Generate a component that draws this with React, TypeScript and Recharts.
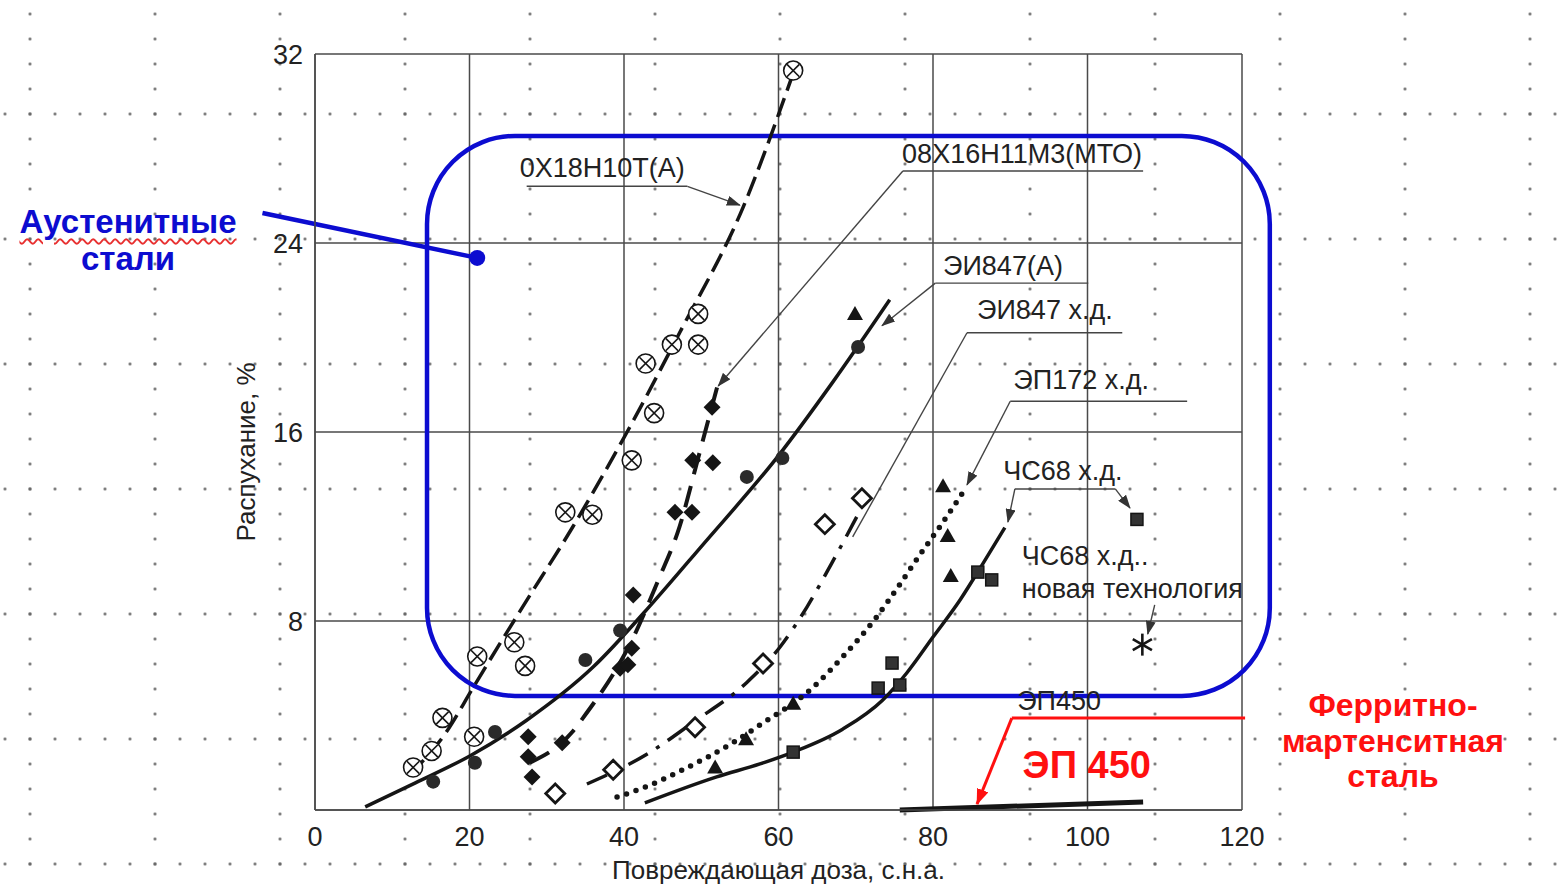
import React from 'react';
import {
  ComposedChart, Line, Scatter, XAxis, YAxis, CartesianGrid,
  ReferenceLine, ReferenceArea, ReferenceDot,
} from 'recharts';

type Pt = { x: number; y: number };
const pts = (a: number[][]): Pt[] => a.map(([x, y]) => ({ x, y }));

const xTicks = [0, 20, 40, 60, 80, 100, 120];
const yTicks = [8, 16, 24, 32];

// 0Х18Н10Т(А) – circles with a cross, dashed curve
const s0x18Points = pts([[12.7, 1.8], [15.1, 2.5], [16.5, 3.9], [20.6, 3.1], [21.0, 6.5], [25.8, 7.1], [27.2, 6.1], [32.4, 12.6], [35.9, 12.5], [41.0, 14.8], [43.9, 16.8], [42.8, 18.9], [46.2, 19.7], [49.6, 19.7], [49.6, 21.0], [61.9, 31.3]]);
const s0x18Curve = pts([[12.3, 1.5], [17.0, 3.3], [20.5, 5.2], [26.5, 8.4], [33.4, 12.0], [40.4, 16.0], [47.2, 20.2], [55.4, 25.5], [61.7, 31.0]]);

// 08Х16Н11М3(МТО) – filled diamonds, dashed curve
const s08x16Points = pts([[27.6, 3.1], [27.6, 2.25], [28.1, 1.4], [32.0, 2.85], [39.5, 6.0], [40.5, 6.15], [41.0, 6.85], [41.2, 9.1], [46.6, 12.6], [48.8, 12.6], [48.9, 14.8], [51.5, 14.7], [51.4, 17.05]]);
const s08x16Curve = pts([[27.8, 2.0], [33.3, 3.3], [34.7, 3.9], [41.2, 7.3], [44.4, 9.7], [47.2, 12.0], [49.6, 14.9], [52.3, 18.2]]);

// ЭИ847(А) – filled circles, solid curve
const ei847aPoints = pts([[15.3, 1.2], [20.7, 2.0], [23.3, 3.3], [35.0, 6.35], [39.5, 7.6], [55.9, 14.1], [60.5, 14.9], [70.3, 19.6]]);
const ei847aCurve = pts([[6.5, 0.13], [13, 1.15], [20.1, 2.3], [27.4, 3.8], [36, 6.05], [43.8, 8.8], [50, 11.15], [60, 15.0], [67, 18.1], [74.4, 21.6]]);

// ЭИ847 х.д. – open diamonds, dash-dot curve
const ei847hdPoints = pts([[31.1, 0.7], [38.6, 1.7], [49.2, 3.5], [58.0, 6.2], [66.0, 12.1], [70.8, 13.2]]);
const ei847hdCurve = pts([[35.2, 1.1], [43.4, 2.45], [48.9, 3.7], [55.9, 5.4], [60.2, 6.9], [63.7, 8.6], [66.9, 10.45], [70.6, 12.7]]);

// ЭП172 х.д. – filled triangles, dotted curve
const ep172Points = pts([[51.8, 1.8], [55.8, 3.0], [61.9, 4.5], [69.9, 21.0], [81.3, 13.7], [81.9, 11.6], [82.3, 9.9]]);
const ep172Curve = pts([[39.1, 0.55], [43, 1.0], [47.6, 1.7], [54.1, 2.85], [57.6, 3.6], [64.5, 5.2], [68.3, 6.48], [72.7, 8.17], [75.7, 9.55], [78.3, 10.8], [80.9, 12.0], [84.4, 13.7]]);

// ЧС68 х.д. – filled squares, solid curve
const cs68Points = pts([[61.9, 2.45], [72.9, 5.16], [75.7, 5.29], [74.7, 6.22], [85.8, 10.07], [87.6, 9.74], [106.4, 12.3]]);
const cs68Curve = pts([[42.7, 0.3], [52, 1.4], [57.6, 1.95], [61.9, 2.45], [68.3, 3.42], [73.5, 4.66], [76.6, 5.8], [80, 7.32], [83.5, 8.89], [86.5, 10.45], [89.3, 11.95]]);

// ЧС68 х.д. новая технология – asterisk
const cs68NewPoints = pts([[107.1, 7.0]]);

// ЭП450 – thick line near zero
const ep450Curve = pts([[75.7, 0.0], [107.2, 0.34]]);

// annotation texts (left / baseline, data units)
const notes = [
  { text: '0Х18Н10Т(А)', x: 26.5, y: 26.8 },
  { text: '08Х16Н11М3(МТО)', x: 76.0, y: 27.4 },
  { text: 'ЭИ847(А)', x: 81.3, y: 22.65 },
  { text: 'ЭИ847 х.д.', x: 85.7, y: 20.8 },
  { text: 'ЭП172 х.д.', x: 90.4, y: 17.8 },
  { text: 'ЧС68 х.д.', x: 89.1, y: 13.97 },
  { text: 'ЧС68 х.д..', x: 91.5, y: 10.37 },
  { text: 'новая технология', x: 91.5, y: 8.97 },
  { text: 'ЭП450', x: 90.9, y: 4.23 },
];

// leader lines [x1, y1, x2, y2, arrow]
const leaders: [number, number, number, number, boolean][] = [
  [27.4, 26.4, 48.2, 26.4, false],
  [48.2, 26.4, 55.0, 25.6, true],
  [76.1, 27.05, 107.2, 27.05, false],
  [76.1, 27.05, 52.2, 17.95, true],
  [80.3, 22.3, 100.1, 22.3, false],
  [80.3, 22.3, 73.4, 20.5, true],
  [84.4, 20.2, 104.5, 20.2, false],
  [84.4, 20.2, 69.6, 11.56, false],
  [90.0, 17.3, 112.9, 17.3, false],
  [90.0, 17.3, 84.4, 13.76, true],
  [90.6, 13.59, 103.6, 13.59, false],
  [90.6, 13.59, 89.7, 12.19, true],
  [103.6, 13.59, 105.5, 12.78, true],
  [108.7, 8.68, 107.8, 7.45, true],
];

const INK = '#151515';
const BLUE = '#0c0cd0';
const RED = '#ff1010';
const FONT = '"Liberation Sans", Arial, sans-serif';

const CrossCircle = (p: any) => {
  const { cx, cy } = p;
  const d = 6.2;
  return (
    <g stroke={INK} strokeWidth={1.6}>
      <circle cx={cx} cy={cy} r={9.5} fill="#fff" />
      <line x1={cx - d} y1={cy - d} x2={cx + d} y2={cy + d} />
      <line x1={cx - d} y1={cy + d} x2={cx + d} y2={cy - d} />
    </g>
  );
};
const FilledDiamond = (p: any) => {
  const { cx, cy } = p;
  const s = 8.5;
  return <polygon points={`${cx},${cy - s} ${cx + s},${cy} ${cx},${cy + s} ${cx - s},${cy}`} fill={INK} />;
};
const OpenDiamond = (p: any) => {
  const { cx, cy } = p;
  const s = 9.5;
  return <polygon points={`${cx},${cy - s} ${cx + s},${cy} ${cx},${cy + s} ${cx - s},${cy}`} fill="#fff" stroke={INK} strokeWidth={2.8} />;
};
const FilledCircle = (p: any) => <circle cx={p.cx} cy={p.cy} r={7} fill="#2a2a2a" />;
const Triangle = (p: any) => {
  const { cx, cy } = p;
  return <polygon points={`${cx},${cy - 8} ${cx + 8},${cy + 6} ${cx - 8},${cy + 6}`} fill={INK} />;
};
const Square = (p: any) => <rect x={p.cx - 6} y={p.cy - 6} width={12} height={12} fill="#333" stroke={INK} strokeWidth={1.5} />;
const Asterisk = (p: any) => {
  const { cx, cy } = p;
  const r = 11;
  return (
    <g stroke={INK} strokeWidth={2.6}>
      <line x1={cx} y1={cy - r} x2={cx} y2={cy + r} />
      <line x1={cx - r * 0.87} y1={cy - r / 2} x2={cx + r * 0.87} y2={cy + r / 2} />
      <line x1={cx - r * 0.87} y1={cy + r / 2} x2={cx + r * 0.87} y2={cy - r / 2} />
    </g>
  );
};

const YTitle = (props: any) => {
  const vb = props.viewBox;
  const x = vb.x + 16;
  const y = vb.y + vb.height / 2 + 20;
  return (
    <text x={x} y={y} transform={`rotate(-90, ${x}, ${y})`} textAnchor="middle" dominantBaseline="central" fontSize={26} fill="#222" fontFamily={FONT}>
      Распухание, %
    </text>
  );
};

export default function App() {
  const tickStyle = { fontSize: 27, fill: '#222', fontFamily: FONT };
  return (
    <div
      style={{
        position: 'absolute', left: 0, top: 0, width: 1563, height: 887, background: '#fff',
        backgroundImage:
          'radial-gradient(circle, #666 1.1px, transparent 1.6px), radial-gradient(circle, #666 1.1px, transparent 1.6px)',
        backgroundSize: '125px 25px, 25px 125px',
        backgroundPosition: '-32.5px 1.5px, -7.5px 51.5px',
        fontFamily: FONT,
      }}
    >
      <ComposedChart width={1563} height={887} margin={{ top: 54, right: 321, bottom: 8, left: 230 }} style={{ position: 'absolute', left: 0, top: 0 }}>
        <defs>
          <marker id="arrowDark" markerWidth={14} markerHeight={10} refX={13} refY={5} orient="auto" markerUnits="userSpaceOnUse">
            <path d="M0,0 L14,5 L0,10 z" fill="#333" />
          </marker>
          <marker id="arrowRed" markerWidth={16} markerHeight={12} refX={15} refY={6} orient="auto" markerUnits="userSpaceOnUse">
            <path d="M0,0 L16,6 L0,12 z" fill={RED} />
          </marker>
        </defs>
        <CartesianGrid stroke="#4a4a4a" strokeWidth={1.5} />
        <XAxis
          type="number" dataKey="x" domain={[0, 120]} ticks={xTicks} interval={0}
          height={69} tickLine={false} tickSize={0} tickMargin={17} tick={tickStyle}
          axisLine={{ stroke: '#4a4a4a', strokeWidth: 1.5 }}
          label={{ value: 'Повреждающая доза, с.н.а.', position: 'insideBottom', offset: 0, fontSize: 26, fill: '#222', fontFamily: FONT }}
        />
        <YAxis
          type="number" dataKey="y" domain={[0, 32]} ticks={yTicks} interval={0}
          width={85} tickLine={false} tickSize={0} tickMargin={12} tick={tickStyle}
          axisLine={{ stroke: '#4a4a4a', strokeWidth: 1.5 }}
          label={{ content: YTitle }}
        />

        <Line data={s0x18Curve} dataKey="y" type="monotone" stroke={INK} strokeWidth={3.5} strokeDasharray="20 8" dot={false} activeDot={false} isAnimationActive={false} />
        <Line data={s08x16Curve} dataKey="y" type="monotone" stroke={INK} strokeWidth={4} strokeDasharray="22 12" dot={false} activeDot={false} isAnimationActive={false} />
        <Line data={ei847aCurve} dataKey="y" type="monotone" stroke={INK} strokeWidth={3.5} dot={false} activeDot={false} isAnimationActive={false} />
        <Line data={ei847hdCurve} dataKey="y" type="monotone" stroke={INK} strokeWidth={3.5} strokeDasharray="22 10 4 10" dot={false} activeDot={false} isAnimationActive={false} />
        <Line data={ep172Curve} dataKey="y" type="monotone" stroke={INK} strokeWidth={5.5} strokeDasharray="0 10" strokeLinecap="round" dot={false} activeDot={false} isAnimationActive={false} />
        <Line data={cs68Curve} dataKey="y" type="monotone" stroke={INK} strokeWidth={3.5} dot={false} activeDot={false} isAnimationActive={false} />
        <Line data={ep450Curve} dataKey="y" type="linear" stroke={INK} strokeWidth={5} dot={false} activeDot={false} isAnimationActive={false} />

        <Scatter data={s0x18Points} dataKey="y" shape={CrossCircle} isAnimationActive={false} />
        <Scatter data={s08x16Points} dataKey="y" shape={FilledDiamond} isAnimationActive={false} />
        <Scatter data={ei847aPoints} dataKey="y" shape={FilledCircle} isAnimationActive={false} />
        <Scatter data={ei847hdPoints} dataKey="y" shape={OpenDiamond} isAnimationActive={false} />
        <Scatter data={ep172Points} dataKey="y" shape={Triangle} isAnimationActive={false} />
        <Scatter data={cs68Points} dataKey="y" shape={Square} isAnimationActive={false} />
        <Scatter data={cs68NewPoints} dataKey="y" shape={Asterisk} isAnimationActive={false} />

        {leaders.map(([x1, y1, x2, y2, arrow], i) => (
          <ReferenceLine
            key={'l' + i}
            segment={[{ x: x1, y: y1 }, { x: x2, y: y2 }]}
            ifOverflow="visible"
            stroke="#444"
            strokeWidth={1.4}
            markerEnd={arrow ? 'url(#arrowDark)' : undefined}
          />
        ))}
        {notes.map((n, i) => (
          <ReferenceDot
            key={'n' + i}
            x={n.x}
            y={n.y}
            r={0}
            ifOverflow="visible"
            shape={(p: any) => (
              <text x={p.cx} y={p.cy} fontSize={27} fill="#222" fontFamily={FONT}>{n.text}</text>
            )}
          />
        ))}

        {/* ЭП450 red callout */}
        <ReferenceLine segment={[{ x: 90.2, y: 3.89 }, { x: 120.4, y: 3.89 }]} ifOverflow="visible" stroke={RED} strokeWidth={3} />
        <ReferenceLine segment={[{ x: 90.2, y: 3.89 }, { x: 85.7, y: 0.25 }]} ifOverflow="visible" stroke={RED} strokeWidth={3} markerEnd="url(#arrowRed)" />
        <ReferenceDot
          x={91.6} y={1.35} r={0} ifOverflow="visible"
          shape={(p: any) => (
            <text x={p.cx} y={p.cy} fontSize={38} fontWeight="bold" fill={RED} fontFamily={FONT}>ЭП 450</text>
          )}
        />

        {/* austenitic group frame */}
        <ReferenceArea
          x1={14.5} x2={123.6} y1={4.83} y2={28.53} ifOverflow="visible"
          shape={(p: any) => (
            <rect x={p.x} y={p.y} width={p.width} height={p.height} rx={88} ry={88} fill="none" stroke={BLUE} strokeWidth={4.5} />
          )}
        />
        <ReferenceLine segment={[{ x: -6.8, y: 25.27 }, { x: 21.0, y: 23.37 }]} ifOverflow="visible" stroke={BLUE} strokeWidth={4.5} />
        <ReferenceDot x={21.0} y={23.37} r={8} fill={BLUE} stroke="none" ifOverflow="visible" />
      </ComposedChart>

      <div style={{ position: 'absolute', left: 0, top: 203, width: 256, textAlign: 'center', color: BLUE, fontWeight: 'bold', fontSize: 33, lineHeight: '37px', whiteSpace: 'nowrap' }}>
        <span style={{ textDecoration: 'underline wavy #e83030', textUnderlineOffset: 5, textDecorationThickness: 1.5 }}>Аустенитные</span>
        <br />
        стали
      </div>
      <div style={{ position: 'absolute', left: 1243, top: 688, width: 300, textAlign: 'center', color: RED, fontWeight: 'bold', fontSize: 32, lineHeight: '35.5px', whiteSpace: 'nowrap' }}>
        Ферритно-
        <br />
        мартенситная
        <br />
        сталь
      </div>
    </div>
  );
}
